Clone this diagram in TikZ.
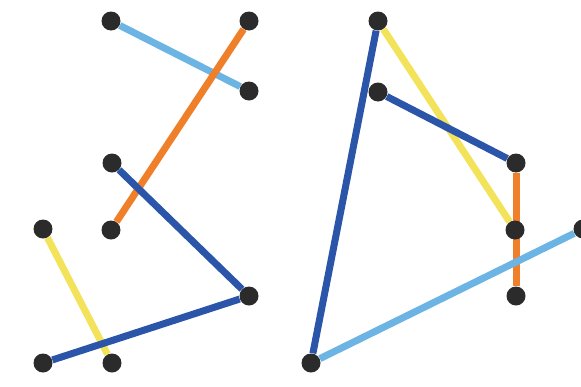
\documentclass[tikz,border=0pt]{standalone}
\usepackage{xcolor}
\usepackage{tikz}
\usetikzlibrary{backgrounds}
\definecolor{skyblue}{HTML}{6CB4E4}
\definecolor{navyblue}{HTML}{2A55A8}
\definecolor{tangerine}{HTML}{F07F2A}
\definecolor{lemon}{HTML}{F3E35A}
\definecolor{dotgray}{HTML}{2B2B2B}
\tikzset{
  dot/.style={circle, fill=dotgray, inner sep=0pt, minimum size=0.38cm},
  link/.style={line width=0.14cm},
  lsky/.style={link, draw=skyblue},
  lnavy/.style={link, draw=navyblue},
  lorange/.style={link, draw=tangerine},
  lyellow/.style={link, draw=lemon}
}

\begin{document}
\begin{tikzpicture}[x=0.02cm, y=-0.02cm]
  \useasboundingbox (0,0) rectangle (581,386);

  % left group
  \node[dot] (a1) at (111,21) {};
  \node[dot] (a2) at (249,21) {};
  \node[dot] (a3) at (249,91) {};
  \node[dot] (a4) at (112,163) {};
  \node[dot] (a5) at (43,229) {};
  \node[dot] (a6) at (111,230) {};
  \node[dot] (a7) at (249,296) {};
  \node[dot] (a8) at (43,363) {};
  \node[dot] (a9) at (112,363) {};

  % right group
  \node[dot] (b1) at (378,21) {};
  \node[dot] (b2) at (378,92) {};
  \node[dot] (b3) at (516,163) {};
  \node[dot] (b4) at (515,230) {};
  \node[dot] (b5) at (516,296) {};
  \node[dot] (b6) at (311,363) {};
  \node[dot] (b7) at (583,229) {};

  % links
  \begin{scope}[on background layer]
    \draw[lsky] (a1) -- (a3);
    \draw[lorange] (a2) -- (a6);
    \draw[lnavy] (a4) -- (a7);
    \draw[lyellow] (a5) -- (a9);
    \draw[lnavy] (a8) -- (a7);

    \draw[lnavy] (b1) -- (b6);
    \draw[lyellow] (b1) -- (b4);
    \draw[lnavy] (b2) -- (b3);
    \draw[lorange] (b3) -- (b5);
    \draw[lsky] (b6) -- (b7);
  \end{scope}
\end{tikzpicture}
\end{document}
